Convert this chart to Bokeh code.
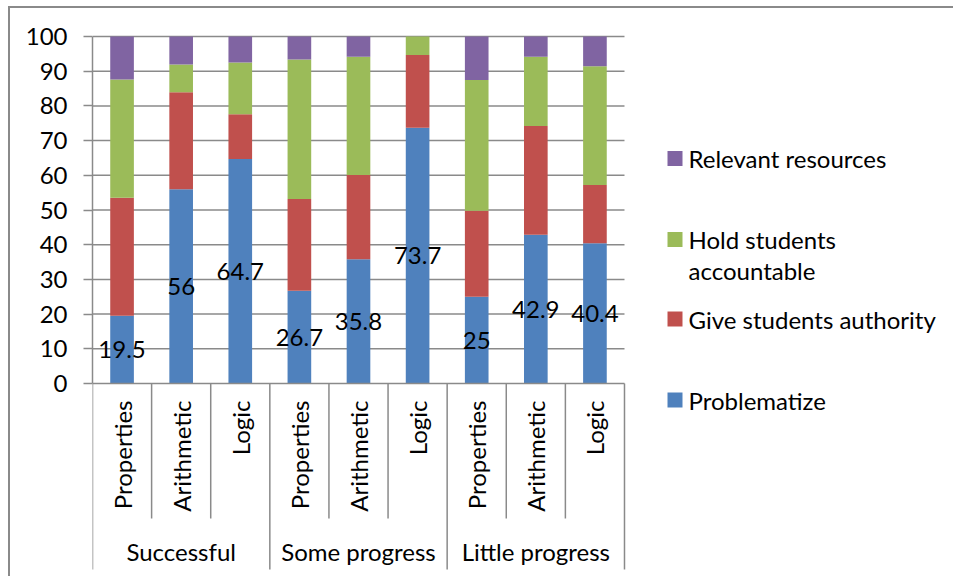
from bokeh.plotting import figure
from bokeh.models import Range1d, FixedTicker, ColumnDataSource
from bokeh.core.properties import value
from bokeh.embed import file_html
from bokeh.resources import INLINE

# ---------------- data ----------------
groups = ["Successful", "Some progress", "Little progress"]
topics = ["Properties", "Arithmetic", "Logic"]
series = ["Problematize", "Give students authority", "Hold students accountable", "Relevant resources"]
problematize = [19.5, 56, 64.7, 26.7, 35.8, 73.7, 25, 42.9, 40.4]
authority = [34.0, 27.9, 12.9, 26.5, 24.3, 21.0, 24.8, 31.3, 16.8]
accountable = [34.1, 8.0, 14.9, 40.2, 34.1, 5.3, 37.7, 20.0, 34.2]
resources = [12.4, 8.1, 7.5, 6.6, 5.8, 0.0, 12.5, 5.8, 8.6]
y_ticks = list(range(0, 101, 10))
legend_labels = ["Relevant resources", "Hold students\naccountable", "Give students authority", "Problematize"]

colors = ["#4F81BD", "#C0504D", "#9BBB59", "#8064A2"]
grey = "#8a8a8a"
FONT = "Lato"
FS = "24px"

# ---------------- layout constants (pixels) ----------------
PX_Y = 3.47      # pixels per value unit
PX_X = 59.11     # pixels per category
FIG_W, FIG_H = 945, 570
MB_L, MB_T = 82, 26
FRAME_W = FIG_W - MB_L
FRAME_H = FIG_H - MB_T
y_end = 100 + 2 / PX_Y
y_start = y_end - FRAME_H / PX_Y

def dx(px):
    return (px - 92) / PX_X

def dy(py):
    return (383 - py) / PX_Y

n = len(problematize)
xs = [i + 0.5 for i in range(n)]
sub_labels = [t for _ in groups for t in topics]

src = ColumnDataSource(dict(
    x=xs,
    Problematize=problematize,
    Authority=authority,
    Accountable=accountable,
    Resources=resources,
    lab=[("%g" % v) for v in problematize],
    lab_y=[v / 2 for v in problematize],
    sub=sub_labels,
))

p = figure(width=FIG_W, height=FIG_H, output_backend="svg", toolbar_location=None,
           x_range=Range1d(0, FRAME_W / PX_X), y_range=Range1d(y_start, y_end),
           x_axis_location=None, min_border_left=MB_L, min_border_top=MB_T,
           min_border_right=0, min_border_bottom=0)
p.grid.visible = False
p.outline_line_color = None
p.background_fill_color = "white"
p.border_fill_color = "white"
p.styles = {"margin-left": "8px", "margin-top": "6px",
            "border-left": "2px solid #8a8a8a", "border-top": "2px solid #8a8a8a"}

# y axis
ya = p.yaxis[0]
ya.ticker = FixedTicker(ticks=y_ticks)
ya.bounds = (0, 100)
ya.axis_line_color = grey
ya.axis_line_width = 1.5
ya.major_tick_line_color = grey
ya.major_tick_line_width = 1.5
ya.major_tick_out = 9
ya.major_tick_in = 0
ya.minor_tick_line_color = None
ya.major_label_text_font = FONT
ya.major_label_text_font_size = FS
ya.major_label_text_color = "black"
ya.major_label_standoff = 16

# horizontal grid lines (only over plot area)
gy = [t for t in y_ticks if t > 0]
p.segment(x0=[0] * len(gy), x1=[n] * len(gy), y0=gy, y1=gy, line_color=grey, line_width=1.5)

# stacked bars
p.vbar_stack(["Problematize", "Authority", "Accountable", "Resources"], x="x", width=0.4,
             source=src, color=colors, line_color=None)

# data labels on blue segment
p.text(x="x", y="lab_y", text="lab", source=src, text_font=value(FONT), text_font_size=FS,
       text_align="center", text_baseline="middle", text_color="black")

# category axis (multi-level) drawn below y=0
p.segment(x0=[0], x1=[n], y0=[0], y1=[0], line_color=grey, line_width=1.5)
sub_len = 135 / PX_Y
grp_len = 186 / PX_Y
sep_x = list(range(n + 1))
sep_y1 = [-(grp_len if i % 3 == 0 else sub_len) for i in sep_x]
p.segment(x0=sep_x, x1=sep_x, y0=[0] * len(sep_x), y1=sep_y1, line_color=grey, line_width=1.5)

p.text(x="x", y=0, text="sub", source=src, angle=1.5708, y_offset=17,
       text_font=value(FONT), text_font_size=FS, text_align="right",
       text_baseline="middle", text_color="black")
gx = [1.5 + 3 * i for i in range(len(groups))]
p.text(x=gx, y=[0] * len(groups), text=groups, y_offset=168,
       text_font=value(FONT), text_font_size=FS, text_align="center",
       text_baseline="middle", text_color="black")

# legend (drawn manually to reproduce Excel spacing)
leg_py = [158, 254.5, 318.5, 399.5]
leg_sq_py = [158, 239, 318.5, 399.5]
leg_colors = [colors[3], colors[2], colors[1], colors[0]]
p.scatter(x=[dx(674.5)] * 4, y=[dy(v) for v in leg_sq_py], marker="square", size=15,
          color=leg_colors, line_color=None)
p.text(x=[dx(688)] * 4, y=[dy(v) for v in leg_py], text=legend_labels,
       text_font=value(FONT), text_font_size=FS, text_align="left", text_baseline="middle",
       text_line_height=1.05, text_color="black")

open("out.html", "w").write(file_html(p, INLINE))
